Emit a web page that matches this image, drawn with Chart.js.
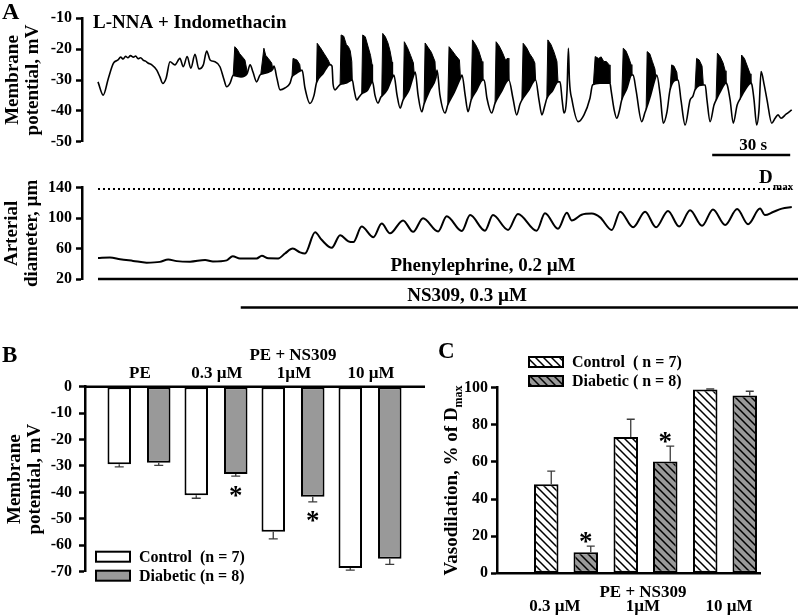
<!DOCTYPE html>
<html><head><meta charset="utf-8">
<script src="https://cdn.jsdelivr.net/npm/chart.js@4.4.0/dist/chart.umd.min.js"></script>
<style>
html,body{margin:0;padding:0;background:#fff;}
#wrap{position:relative;width:798px;height:615px;overflow:hidden;background:#fff;}
canvas{position:absolute;}
</style></head><body>
<div id="wrap">
<canvas id="cMem" width="798" height="170" style="left:0px;top:0px"></canvas>
<canvas id="cDia" width="798" height="160" style="left:0px;top:160px"></canvas>
<canvas id="cB" width="440" height="285" style="left:0px;top:330px"></canvas>
<canvas id="cC" width="378" height="285" style="left:420px;top:330px"></canvas>
</div>
<script>
// ---------- Panel A: membrane potential trace [time s, mV] ----------
const memTrace = [[0,-30.6],[2.0,-34.9],[4.0,-29.4],[5.9,-24.6],[7.7,-23.5],[8.7,-22.6],[9.7,-23.2],[10.6,-22.3],[11.5,-22.8],[12.5,-22.1],[13.6,-22.6],[14.5,-22.2],[15.4,-23.1],[16.4,-22.8],[17.4,-23.6],[18.3,-23.9],[19.2,-24.5],[20.7,-25.1],[22.6,-26.8],[23.8,-29],[24.9,-31.1],[26.2,-29.4],[27.7,-24.1],[29.6,-25.1],[31.5,-23],[32.8,-25.7],[34.3,-22.4],[35.7,-26.2],[37.3,-21.7],[38.8,-26.4],[40.5,-25.1],[41.8,-20.6],[43.1,-23.5],[45,-24.1],[46.9,-25.7],[48.3,-29.4],[49.5,-32.2],[50.8,-31],[52.0,-28.5],[55.0,-29],[57.3,-28],[58.5,-25.1],[59.6,-27.4],[61,-30.6],[62.3,-28.4],[63.5,-28],[65.5,-27.5],[67.2,-26.5],[67.7,-25.5],[68.8,-29.4],[70,-33.2],[71.9,-32.6],[73.8,-31.1],[74.6,-29],[76,-28],[77.9,-27],[78.5,-26.8],[79.6,-32.6],[81.5,-37.6],[83.1,-34.9],[84.0,-31],[86.5,-28],[89.2,-25],[90.0,-25.5],[90.4,-31.3],[91.2,-33.2],[92.3,-32.2],[93.1,-31.5],[95.5,-31],[97.8,-30],[98.5,-33.2],[99.5,-36.5],[100.4,-35.5],[101.4,-34.5],[103.5,-33.5],[105.6,-30.6],[106.5,-34.9],[107.7,-37.5],[108.8,-35.5],[109.1,-35.3],[111.2,-33.2],[113.3,-29],[113.8,-28.4],[115,-34.9],[116.2,-39.1],[117.3,-36.5],[119.5,-33.5],[121.6,-28],[122.0,-27.4],[123.1,-34.9],[124.5,-40.3],[125.4,-37.8],[127.5,-33.5],[129.9,-29.4],[130.4,-26.8],[131.5,-34.9],[133.5,-40.7],[134.5,-38.1],[137,-34],[139.4,-29.4],[140,-28.4],[141.2,-34.9],[142.3,-40.3],[143.5,-36.5],[145.5,-33.5],[148,-30],[148.5,-30],[149.6,-36],[151.4,-40.7],[152.7,-37.5],[155,-34],[158,-30],[159.6,-36],[161,-41.3],[162.3,-37.8],[163,-36.5],[165.5,-33.5],[168.3,-30],[169.6,-36.5],[170.7,-41.3],[171.9,-38.1],[172.6,-36],[174.8,-33.5],[176.9,-30.6],[177.7,-30.6],[178.5,-36.5],[179.2,-40.7],[180.4,-33.2],[180.9,-19.7],[181.3,-30],[182.3,-36.5],[184.7,-43.5],[186.9,-41.3],[189.2,-35.9],[190.2,-31.6],[193,-31],[196.9,-31],[197.3,-33.2],[198.5,-39.7],[199.5,-42.4],[200.4,-40.4],[201.4,-36.5],[203.3,-33],[205.3,-28.4],[205.8,-28.4],[206.9,-33.2],[209.1,-43.5],[210.4,-40.4],[210.8,-39.5],[212.5,-35],[214.5,-29],[214.9,-28.4],[216.2,-34.9],[217.4,-44],[218.8,-40.4],[220,-33.2],[222.9,-30],[223.1,-30],[224.2,-36.5],[225.8,-44.6],[227.7,-36.5],[228.8,-35.2],[229.6,-33.2],[232.8,-31.6],[233.5,-31.6],[234.2,-36.5],[235.4,-43.5],[236.9,-38.1],[237.7,-36.5],[239.5,-33.5],[241.5,-31],[242,-31.6],[243.1,-36.5],[244.3,-44],[245.8,-38.1],[247,-36],[249,-33],[251.1,-31],[251.5,-31.6],[252.3,-36.5],[253.3,-44.6],[254.2,-39.7],[255,-27.3],[256.2,-31.6],[257.3,-36.5],[259.1,-44],[260.4,-42.4],[261.5,-41.3],[262.7,-42.4],[264.6,-41.1],[266.8,-39.7]];
// upper envelope of the spike bursts [time s, mV]; null separates bursts
const burstTop = [[52.0,-28.5],[52.6,-19.2],[53.5,-20],[54.5,-21.5],[55.5,-22.5],[56.5,-23.5],[57.3,-27],[60,null],
[62.6,-28.2],[63.8,-19.7],[64.5,-22],[65.5,-23],[66.8,-24.5],[67.2,-26.3],[70,null],
[74.6,-29],[75.0,-23],[76.5,-23.5],[77.6,-25],[77.9,-27],[80,null],
[84.0,-31],[84.3,-18.1],[85.5,-19.5],[87,-21.5],[88.5,-23.5],[89.3,-25],[91,null],
[93.1,-31.5],[93.5,-15.4],[94.5,-15.8],[95.5,-18.5],[96.3,-19.2],[97.0,-20.5],[97.6,-24],[97.8,-30],[99,null],
[101.4,-34.5],[101.8,-15.4],[102.8,-16],[103.8,-19],[104.8,-22],[105.4,-25],[105.6,-30.6],[107,null],
[109.1,-35.3],[109.5,-14.9],[110.5,-16],[111.5,-18],[112.3,-20.5],[113.1,-24.2],[113.3,-29],[115,null],
[117.4,-36.3],[117.8,-17.6],[119,-19.5],[120.2,-22],[121.3,-24.5],[121.6,-28],[123,null],
[125.4,-37.8],[125.8,-18],[127,-19.5],[128.2,-21],[129.6,-24],[129.9,-29.4],[132,null],
[134.5,-38.1],[135,-19.2],[136.2,-20.5],[137.5,-22],[139,-23.5],[139.4,-29.4],[141,null],
[143.5,-36.5],[144,-17],[145.2,-18.5],[146.4,-20.5],[147.7,-24],[148,-30],[150,null],
[152.7,-37.5],[153.1,-17.6],[154.3,-19],[155.5,-21],[156.7,-23.5],[157.7,-22.9],[158,-30],[160,null],
[163,-36.5],[163.5,-18.1],[164.8,-19.5],[166,-21.5],[167.2,-23],[168,-24.5],[168.3,-30],[170,null],
[172.6,-36],[173,-17],[174.2,-18.5],[175.4,-21],[176.5,-24],[176.9,-30.6],[185,null],
[190.5,-31.5],[191.2,-22.4],[192.5,-23],[193.5,-22.5],[194.5,-24],[195.5,-24],[196.6,-25.1],[196.9,-31],[199,null],
[201.4,-36.5],[202,-19.7],[203,-20.5],[204,-22.5],[205,-25],[205.3,-28.4],[208,null],
[210.8,-39.5],[211.2,-20.8],[212.2,-21.5],[213.2,-24],[214.2,-26.5],[214.5,-29],[217,null],
[220,-33.2],[220.6,-25.1],[221.5,-25.5],[222.6,-27.5],[222.9,-30],[226,null],
[229.6,-33.2],[230.2,-23],[231.2,-23.5],[232.3,-25.5],[232.8,-31.6],[235,null],
[237.7,-36.5],[238.2,-21.3],[239.3,-22.5],[240.4,-24.5],[241.2,-27],[241.5,-31],[244,null],
[247,-36],[247.5,-21.9],[248.6,-23],[249.7,-25.5],[250.8,-28],[251.1,-31]];
const memTicks = [-50,-40,-30,-20,-10];
const scaleBarTime = [236.2, 266.2];   // 30 s
const scaleBarMv = -54.3;

// ---------- Panel A: arterial diameter trace [time s, µm] ----------
const diaTrace = [[0,47.5],[4.6,48.2],[8.5,46],[13.5,43.8],[18.7,41.5],[23.8,42.5],[27,45.5],[30.3,43.5],[35.4,42.8],[41.2,45],[44.2,43],[49.5,44.5],[51.8,50],[54.6,47],[61,47],[63,50.5],[65.5,47.2],[69.3,47],[71.9,53.5],[74.9,60],[77.7,55],[79.6,53.5],[83.5,81.5],[86,71.5],[89.9,61],[93.1,77.5],[96.3,69.5],[98.2,68.5],[101.4,89],[105.9,75],[109.1,93],[112.3,80],[117.3,97],[121.2,82],[125,100],[130.8,82.5],[134.1,102.5],[139.9,83],[143.1,104],[148.8,83.5],[151.9,104],[157.7,84.5],[161.5,105.5],[168.7,83.5],[171.9,106.5],[176.9,86],[180.3,107],[182.2,97],[186,104.5],[189.9,106],[193.1,101],[197.6,84.5],[200.8,108.5],[205.8,88],[210.4,108.5],[214.6,88],[219.2,109.5],[223.5,89],[227.7,110.5],[232.3,90],[236.5,111.5],[241.2,91],[245.8,112],[250,92],[254.6,112.5],[256.5,104],[259.6,108],[263,112.5],[266.8,114.5]];
const diaTicks = [20,60,100,140];
const dmaxUm = 138.3, dmaxSpan = [0, 266.2];
const peLevel = 20, peSpan = [0, 269.2];
const nsLevel = -17.5, nsSpan = [54.9, 269.2];

// ---------- Panel B: membrane potential (mV) ----------
const bCats = ['PE','0.3 µM','1µM','10 µM'];
const bControl = [-29.3,-41.1,-54.9,-68.6];
const bControlErr = [1.0,1.1,2.7,0.8];
const bDiabetic = [-28.8,-33.0,-41.6,-65.1];
const bDiabeticErr = [1.0,0.8,2.0,2.1];
const bDiabeticSig = [false,true,true,false];
const bTicks = [-70,-60,-50,-40,-30,-20,-10,0];

// ---------- Panel C: vasodilation (% of Dmax) ----------
const cCats = ['0.3 µM','1µM','10 µM'];
const cControl = [48,73.5,99];
const cControlErr = [7,9.5,0.3];
const cDiabetic = [11.3,60.3,95.8];
const cDiabeticErr = [3.3,8.2,2.3];
const cDiabeticSig = [true,true,false];
const cTicks = [0,20,40,60,80,100];

// =====================================================================
const FF = 'Liberation Serif';
const pts = a => a.map(p => ({x:p[0], y:p[1]}));
function txt(ctx, s, x, y, size, align, base){
  ctx.save(); ctx.font = 'bold ' + size + 'px "' + FF + '"'; ctx.fillStyle = '#000';
  ctx.textAlign = align || 'left'; ctx.textBaseline = base || 'alphabetic';
  ctx.fillText(s, x, y); ctx.restore();
}
function yAxis(min, max, ticks, width, pad, title, tpad){
  return {
    type:'linear', min:min, max:max,
    afterFit: s => { s.width = width; },
    afterBuildTicks: s => { s.ticks = ticks.map(v => ({value:v})); },
    ticks:{color:'#000', padding:pad, font:{family:FF, weight:'bold', size:16}},
    grid:{drawOnChartArea:false, drawTicks:true, tickLength:6, tickWidth:2.5, tickColor:'#000'},
    border:{display:true, color:'#000', width:2.5},
    title: title ? {display:true, text:title, color:'#000', font:{family:FF, weight:'bold', size:19, lineHeight:1.05}, padding:{top:tpad, bottom:0}} : {display:false}
  };
}
const common = {animation:false, responsive:false, devicePixelRatio:1, events:[]};
const noPlug = {legend:{display:false}, tooltip:{enabled:false}};

// ---------- Chart A1 ----------
new Chart(document.getElementById('cMem'), {
  type:'line',
  data:{datasets:[
    {data:pts(memTrace), borderColor:'#000', borderWidth:1.6, pointRadius:0, cubicInterpolationMode:'monotone', fill:false, clip:false},
    {data:pts(burstTop), borderColor:'#000', borderWidth:1, backgroundColor:'#000', pointRadius:0, tension:0, fill:'-1', spanGaps:false, clip:false},
    {data:[{x:scaleBarTime[0], y:scaleBarMv},{x:scaleBarTime[1], y:scaleBarMv}], borderColor:'#000', borderWidth:2.5, pointRadius:0, fill:false, clip:false}
  ]},
  options:Object.assign({}, common, {
    layout:{padding:{top:18.3, bottom:28.3, left:0, right:0}},
    scales:{
      x:{type:'linear', display:false, min:-6.15, max:269.2},
      y:yAxis(-50, -10, memTicks, 82, 4, ['Membrane','potential, mV'], 3)
    },
    plugins:Object.assign({}, noPlug)
  }),
  plugins:[{id:'annA', afterDraw(ch){
    const c = ch.ctx, xs = ch.scales.x, ys = ch.scales.y;
    txt(c, 'A', 2, 19, 24);
    txt(c, 'L-NNA + Indomethacin', 93, 28, 19);
    txt(c, '30 s', xs.getPixelForValue((scaleBarTime[0]+scaleBarTime[1])/2) + 2, ys.getPixelForValue(scaleBarMv) - 5, 17, 'center');
  }}]
});

// ---------- Chart A2 ----------
new Chart(document.getElementById('cDia'), {
  type:'line',
  data:{datasets:[
    {data:pts(diaTrace), borderColor:'#000', borderWidth:2, pointRadius:0, cubicInterpolationMode:'monotone', fill:false, clip:false},
    {data:[{x:dmaxSpan[0], y:dmaxUm},{x:dmaxSpan[1], y:dmaxUm}], borderColor:'#000', borderWidth:2, borderDash:[2,3], pointRadius:0, fill:false, clip:false},
    {data:[{x:peSpan[0], y:peLevel},{x:peSpan[1], y:peLevel}], borderColor:'#000', borderWidth:2.5, pointRadius:0, fill:false, clip:false},
    {data:[{x:nsSpan[0], y:nsLevel},{x:nsSpan[1], y:nsLevel}], borderColor:'#000', borderWidth:2.5, pointRadius:0, fill:false, clip:false}
  ]},
  options:Object.assign({}, common, {
    layout:{padding:{top:27.7, bottom:41, left:0, right:0}},
    scales:{
      x:{type:'linear', display:false, min:-6.15, max:269.2},
      y:yAxis(20, 140, diaTicks, 82, 4, ['Arterial','diameter, µm'], 2)
    },
    plugins:Object.assign({}, noPlug)
  }),
  plugins:[{id:'annA2', afterDraw(ch){
    const c = ch.ctx, ys = ch.scales.y;
    const yd = ys.getPixelForValue(dmaxUm);
    txt(c, 'D', 759, yd - 6, 19);
    txt(c, 'max', 773, yd + 1, 11);
    txt(c, 'Phenylephrine, 0.2 µM', 483, ys.getPixelForValue(peLevel) - 8, 19, 'center');
    txt(c, 'NS309, 0.3 µM', 467, ys.getPixelForValue(nsLevel) - 7, 19, 'center');
  }}]
});

// ---------- shared bar plugins ----------
const errBars = {id:'errBars', afterDatasetsDraw(ch, args, o){
  const ctx = ch.ctx, ys = ch.scales.y;
  ch.data.datasets.forEach((ds, i) => {
    if (!ds.errors) return;
    const meta = ch.getDatasetMeta(i);
    meta.data.forEach((bar, j) => {
      const v = ds.data[j].y, e = ds.errors[j], end = v + Math.sign(v) * e;
      const x = bar.x + o.offset, y0 = ys.getPixelForValue(v), y1 = ys.getPixelForValue(end);
      ctx.save(); ctx.strokeStyle = '#3c3c3c'; ctx.lineWidth = 1.3;
      ctx.beginPath(); ctx.moveTo(x, y0); ctx.lineTo(x, y1);
      ctx.moveTo(x - o.cap/2, y1); ctx.lineTo(x + o.cap/2, y1); ctx.stroke();
      if (ds.sig && ds.sig[j]) {
        ctx.font = 'bold 27px "' + FF + '"'; ctx.fillStyle = '#000'; ctx.textAlign = 'center'; ctx.textBaseline = 'alphabetic';
        const m = ctx.measureText('*');
        const dir = y1 > y0 ? 1 : -1;
        const cy = y1 + dir * o.gap;
        ctx.fillText('*', bar.x, cy + (m.actualBoundingBoxAscent - m.actualBoundingBoxDescent) / 2);
      }
      ctx.restore();
    });
  });
}};
const zeroLine = {id:'zeroLine', afterDatasetsDraw(ch){
  const ctx = ch.ctx, y = ch.scales.y.getPixelForValue(0), a = ch.chartArea;
  ctx.save(); ctx.strokeStyle = '#000'; ctx.lineWidth = 2.5;
  ctx.beginPath(); ctx.moveTo(a.left - 1, y); ctx.lineTo(a.right, y); ctx.stroke(); ctx.restore();
}};
const boxLegend = {id:'boxLegend', afterDraw(ch, args, o){
  const ctx = ch.ctx;
  ch.data.datasets.forEach((ds, i) => {
    const y = o.ys[i];
    ctx.save(); ctx.fillStyle = ds.backgroundColor; ctx.fillRect(o.x, y, o.w, o.h);
    ctx.strokeStyle = '#000'; ctx.lineWidth = 2; ctx.strokeRect(o.x, y, o.w, o.h); ctx.restore();
    txt(ctx, ds.label, o.tx, y + o.h/2 + 1, 16, 'left', 'middle');
  });
}};

// ---------- Chart B ----------
new Chart(document.getElementById('cB'), {
  type:'bar',
  data:{datasets:[
    {label:'Control  (n = 7)', data:bControl.map((v,i)=>({x:i, y:v})), errors:bControlErr, backgroundColor:'#ffffff', borderColor:'#000', borderWidth:2, borderSkipped:false, categoryPercentage:1.026, barPercentage:0.595},
    {label:'Diabetic (n = 8)', data:bDiabetic.map((v,i)=>({x:i, y:v})), errors:bDiabeticErr, sig:bDiabeticSig, backgroundColor:'#999999', borderColor:'#000', borderWidth:2, borderSkipped:false, categoryPercentage:1.026, barPercentage:0.595}
  ]},
  options:Object.assign({}, common, {
    layout:{padding:{top:56.7, bottom:43.3, left:0, right:15}},
    scales:{
      x:{type:'linear', display:false, min:-0.701, max:3.714, offset:false,
         afterBuildTicks: s => { s.ticks = bCats.map((c,i)=>({value:i})); }},
      y:yAxis(-70, 0, bTicks, 85, 7, ['Membrane','potential, mV'], 5)
    },
    plugins:Object.assign({}, noPlug, {
      errBars:{offset:0, cap:9, gap:15},
      boxLegend:{x:96, ys:[221.7, 240.7], w:34, h:10, tx:139}
    })
  }),
  plugins:[errBars, zeroLine, boxLegend, {id:'annB', afterDraw(ch){
    const c = ch.ctx, xs = ch.scales.x;
    txt(c, 'B', 2, 32, 23);
    txt(c, 'PE + NS309', xs.getPixelForValue(2), 30, 17, 'center');
    bCats.forEach((s, i) => txt(c, s, xs.getPixelForValue(i) + (i === 0 ? 1 : 1), 48, 17, 'center'));
  }}]
});

// ---------- Chart C ----------
const ctxC = document.getElementById('cC').getContext('2d');
function mkHatch(bg){
  const t = document.createElement('canvas'); t.width = 8; t.height = 8;
  const g = t.getContext('2d'); g.fillStyle = bg; g.fillRect(0,0,8,8);
  g.strokeStyle = '#000'; g.lineWidth = 1.5; g.beginPath();
  g.moveTo(-2,-2); g.lineTo(10,10); g.moveTo(-2,6); g.lineTo(2,10); g.moveTo(6,-2); g.lineTo(10,2); g.stroke();
  return ctxC.createPattern(t, 'repeat');
}
new Chart(document.getElementById('cC'), {
  type:'bar',
  data:{datasets:[
    {label:'Control  ( n = 7)', data:cControl.map((v,i)=>({x:i, y:v})), errors:cControlErr, backgroundColor:mkHatch('#ffffff'), borderColor:'#000', borderWidth:2, borderSkipped:false, categoryPercentage:0.994, barPercentage:0.62},
    {label:'Diabetic ( n = 8)', data:cDiabetic.map((v,i)=>({x:i, y:v})), errors:cDiabeticErr, sig:cDiabeticSig, backgroundColor:mkHatch('#999999'), borderColor:'#000', borderWidth:2, borderSkipped:false, categoryPercentage:0.994, barPercentage:0.62}
  ]},
  options:Object.assign({}, common, {
    layout:{padding:{top:57.7, bottom:41.7, left:0, right:37}},
    scales:{
      x:{type:'linear', display:false, min:-0.868, max:2.453, offset:false,
         afterBuildTicks: s => { s.ticks = cCats.map((c,i)=>({value:i})); }},
      y:yAxis(0, 100, cTicks, 77, 3, null, 0)
    },
    plugins:Object.assign({}, noPlug, {
      errBars:{offset:5, cap:8, gap:9},
      boxLegend:{x:109, ys:[27, 46], w:34, h:10, tx:152}
    })
  }),
  plugins:[errBars, zeroLine, boxLegend, {id:'annC', afterDraw(ch){
    const c = ch.ctx, a = ch.chartArea;
    txt(c, 'C', 18, 28, 23);
    // rotated y title with subscript
    c.save();
    c.translate(32.5, (a.top + a.bottom) / 2);
    c.rotate(-Math.PI / 2);
    c.font = 'bold 19px "' + FF + '"';
    const main = 'Vasodilation, % of D';
    const w1 = c.measureText(main).width;
    c.font = 'bold 12px "' + FF + '"';
    const w2 = c.measureText('max').width;
    const x0 = -(w1 + w2) / 2;
    c.fillStyle = '#000'; c.textBaseline = 'middle'; c.textAlign = 'left';
    c.font = 'bold 19px "' + FF + '"'; c.fillText(main, x0, 0);
    c.font = 'bold 12px "' + FF + '"'; c.fillText('max', x0 + w1, 6);
    c.restore();
    txt(c, 'PE + NS309', 223, 267, 17, 'center');
    const lx = [135, 223, 309];
    cCats.forEach((s, i) => txt(c, s, lx[i], 281, 17, 'center'));
  }}]
});
</script>
</body></html>
